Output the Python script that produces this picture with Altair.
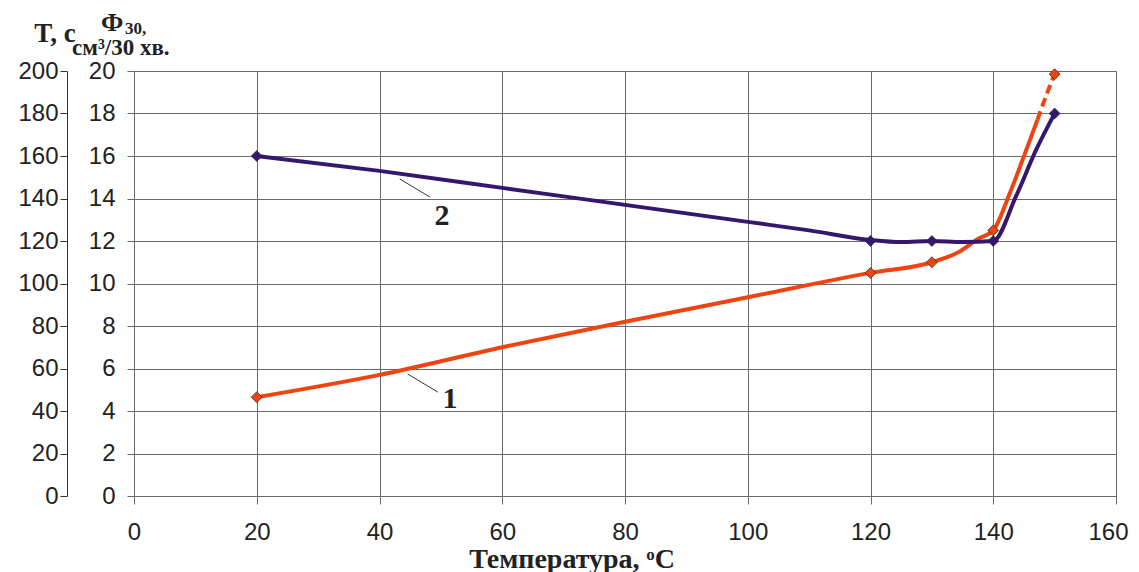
import altair as alt
import pandas as pd

# ---- data ----
x_markers = [20, 120, 130, 140, 150]
t_markers = [160, 120, 120, 120, 180]            # curve 2, T, s
phi_markers = [4.65, 10.5, 11.0, 12.5, 19.85]     # curve 1, Phi30, cm3/30 min

# curve shapes
t_curve_x = [20, 40, 60, 80, 100, 110, 120, 125, 130, 135, 140, 143.7, 147, 150]
t_curve_y = [160, 153, 145, 137, 129, 125, 120.5, 119.5, 120, 119.5, 120, 141, 163, 180]

phi_solid_x = [20, 40, 60, 80, 100, 120, 130, 134.5, 137.5, 140, 142.7, 145.4, 147.2]
phi_solid_y = [4.65, 5.7, 7.0, 8.2, 9.35, 10.5, 11.0, 11.5, 12.1, 12.5, 14.25, 16.3, 17.7]
phi_dash_x = [147.2, 148.7, 150]
phi_dash_y = [17.7, 18.9, 19.85]

# annotation labels (data coordinates on the T scale)
ann_labels = ["2", "1"]
ann_x = [50.2, 51.5]
ann_t = [127.5, 41.4]
lead_x1 = [43.3, 44.6]
lead_t1 = [149.2, 57.4]
lead_x2 = [48.2, 49.5]
lead_t2 = [140.7, 48.9]

x_ticks = list(range(0, 161, 20))
t_ticks = list(range(0, 201, 20))
phi_ticks = list(range(0, 21, 2))

PURPLE = "#35186E"
ORANGE = "#EE4411"
GRID = "#6a6a6a"
SANS = "Liberation Sans"
SERIF = "Liberation Serif"
LBL = 24

xenc = alt.X("x:Q", scale=alt.Scale(domain=[0, 160], nice=False),
             axis=alt.Axis(values=x_ticks, title=None, grid=True, gridColor=GRID,
                           tickSize=8, tickColor=GRID, domainColor=GRID,
                           labelFont=SANS, labelFontSize=LBL, labelColor="#222",
                           labelPadding=16, labelFlush=False,
                           labelOffset={"expr": "datum.value == 160 ? -8 : 0"}))

t_axis = alt.Axis(orient="left", offset=67, values=t_ticks, title=None, grid=False,
                  tickSize=7, tickColor="#333", domainColor="#333",
                  labelFont=SANS, labelFontSize=LBL, labelColor="#222",
                  labelPadding=2, labelFlush=False)
t_scale = alt.Scale(domain=[0, 200], nice=False)

phi_axis = alt.Axis(orient="left", offset=0, values=phi_ticks, title=None, grid=True,
                    gridColor=GRID, tickSize=7, tickColor=GRID, domainColor=GRID,
                    labelFont=SANS, labelFontSize=LBL, labelColor="#222",
                    labelPadding=12, labelFlush=False)
phi_scale = alt.Scale(domain=[0, 20], nice=False)

def ty(field="T"):
    return alt.Y(f"{field}:Q", scale=t_scale, axis=t_axis)

def py():
    return alt.Y("phi:Q", scale=phi_scale, axis=phi_axis)

# ---- curve 2 (T) group ----
t_line = alt.Chart(pd.DataFrame({"x": t_curve_x, "T": t_curve_y})).mark_line(
    color=PURPLE, strokeWidth=4, interpolate="monotone").encode(x=xenc, y=ty())
t_pts = alt.Chart(pd.DataFrame({"x": x_markers, "T": t_markers})).mark_point(
    shape="diamond", filled=True, size=120, color=PURPLE, opacity=1,
    stroke="#222", strokeWidth=0.6).encode(x=xenc, y=ty())
leaders = alt.Chart(pd.DataFrame({"x": lead_x1, "T": lead_t1, "x2": lead_x2, "T2": lead_t2})).mark_rule(
    color="#333", strokeWidth=1).encode(x=xenc, y=ty(), x2="x2:Q", y2="T2:Q")
ann = alt.Chart(pd.DataFrame({"x": ann_x, "T": ann_t, "lab": ann_labels})).mark_text(
    font=SERIF, fontSize=30, fontWeight="bold", color="#222", baseline="alphabetic",
    align="center").encode(x=xenc, y=ty(), text="lab:N")

# top-left titles and x title (as plain text)
def label(txt, x, y, size, align="left"):
    return alt.Chart(pd.DataFrame({"x": [0]})).mark_text(
        text=txt, font=SERIF, fontSize=size, fontWeight="bold", color="#222",
        align=align, baseline="alphabetic").encode(x=alt.value(x), y=alt.value(y))

titles = [
    label("T, с", -79, -29, 27, "center"),
    label("Ф", -33, -40, 26),
    label("30,", -9, -37, 17),
    label("см³/30 хв.", -62, -16, 23),
    label("Температура, ᵒС", 438, 497, 28, "center"),
]

t_group = alt.layer(t_line, t_pts, leaders, ann, *titles)

# ---- curve 1 (Phi30) group ----
p_solid = alt.Chart(pd.DataFrame({"x": phi_solid_x, "phi": phi_solid_y})).mark_line(
    color=ORANGE, strokeWidth=4, interpolate="monotone").encode(x=xenc, y=py())
p_dash = alt.Chart(pd.DataFrame({"x": phi_dash_x, "phi": phi_dash_y})).mark_line(
    color=ORANGE, strokeWidth=4, strokeDash=[9, 5], interpolate="monotone").encode(x=xenc, y=py())
p_pts = alt.Chart(pd.DataFrame({"x": x_markers, "phi": phi_markers})).mark_point(
    shape="diamond", filled=True, size=120, color=ORANGE, opacity=1,
    stroke="#333", strokeWidth=0.8).encode(x=xenc, y=py())

p_group = alt.layer(p_solid, p_dash, p_pts)

chart = alt.layer(p_group, t_group).resolve_scale(y="independent").properties(
    width=982, height=425,
    autosize=alt.AutoSizeParams(type="none"),
    padding={"left": 126, "top": 63, "right": 15, "bottom": 80},
).configure_view(stroke=GRID, strokeWidth=1).configure(background="white")

chart.save("out.html", embed_options={"renderer": "svg", "actions": False})
